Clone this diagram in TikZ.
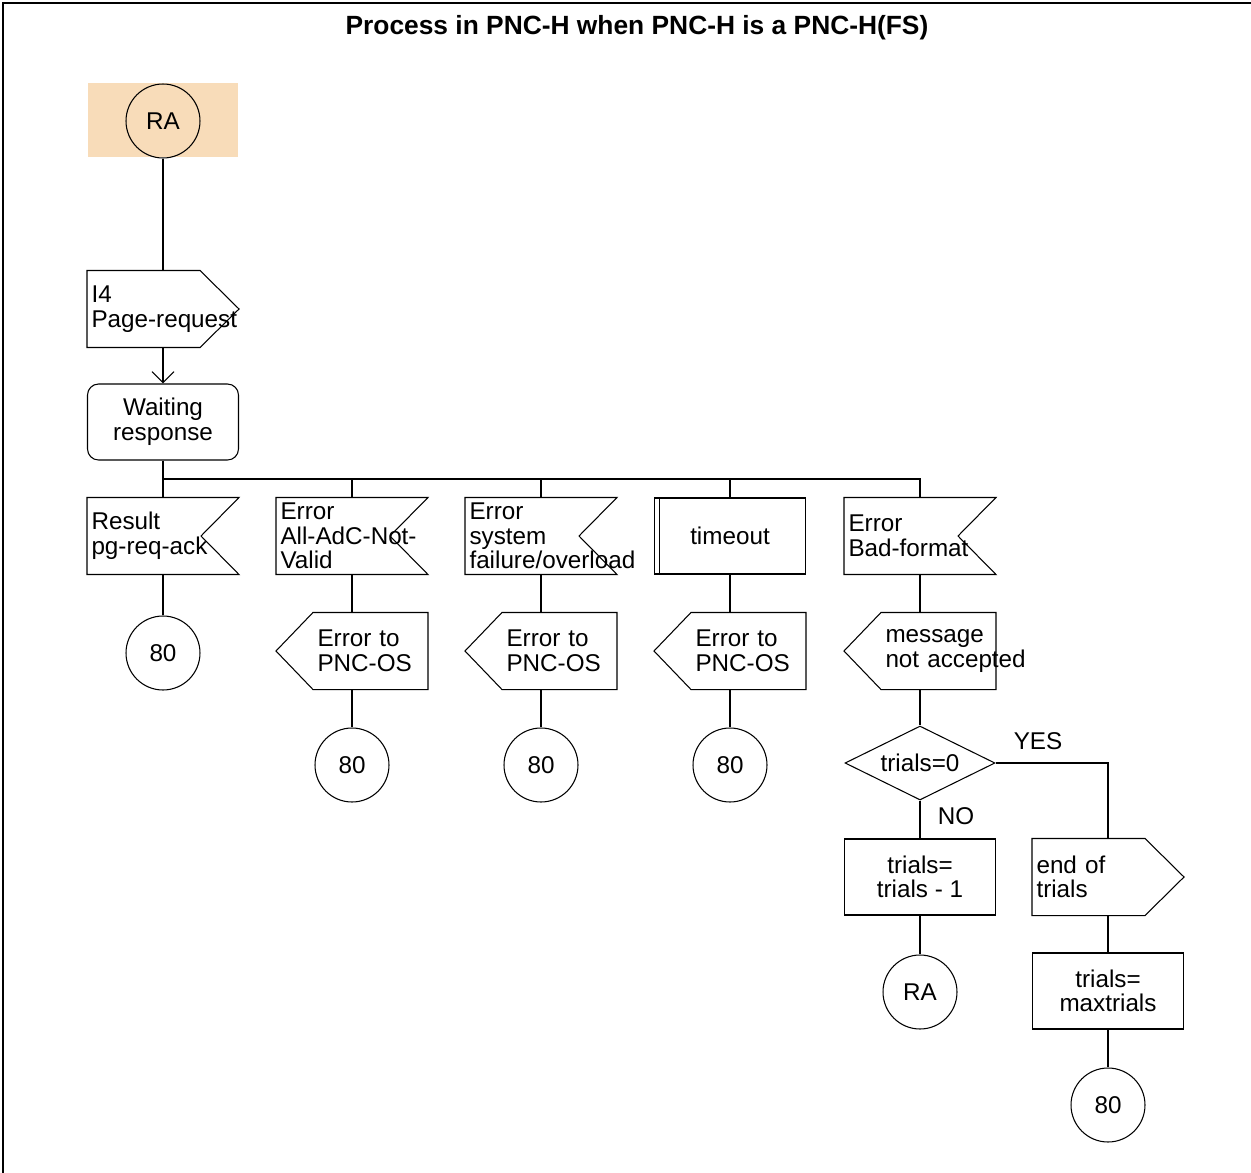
\documentclass[tikz,border=0pt]{standalone}
\usepackage{fontspec}
\setmainfont{Liberation Sans}
\usetikzlibrary{arrows.meta, positioning, shapes.geometric}
\definecolor{cstart}{HTML}{F8DCB9}
\exhyphenpenalty=10000
\hyphenpenalty=10000
\tikzset{
  every picture/.style={line width=0.6pt},
  every node/.style={font=\fontsize{13.8}{14}\selectfont},
  conn/.style={draw, circle, minimum size=1.48cm, inner sep=0pt},
  sdlbox/.style={rectangle, minimum width=3.02cm, minimum height=1.52cm, inner sep=0.08cm},
  task/.style={sdlbox, draw, align=center},
  statebox/.style={sdlbox, draw, rounded corners=0.22cm, align=center},
  sigtext/.style={sdlbox, text width=2.86cm, align=left},
  outtext/.style={sigtext, execute at begin node={\leftskip=0.74cm}},
  decision/.style={draw, diamond, aspect=2, minimum width=3cm, minimum height=1.48cm, inner sep=1pt},
  arrow/.style={-{Straight Barb[length=0.22cm, width=0.44cm]}},
  frame/.style={line width=1.2pt},
  title/.style={font=\fontsize{15}{17}\selectfont\bfseries},
}
% signal outlines drawn round the text nodes
\newcommand{\inshape}[1]{%
  \draw (#1.north west) -- (#1.north east) -- ([shift={(-38,0)}]#1.east)
    -- (#1.south east) -- (#1.south west) -- cycle;}
\newcommand{\sendright}[1]{%
  \draw (#1.north west) -- ([shift={(-39,0)}]#1.north east) -- (#1.east)
    -- ([shift={(-39,0)}]#1.south east) -- (#1.south west) -- cycle;}
\newcommand{\sendleft}[1]{%
  \draw (#1.west) -- ([shift={(37,0)}]#1.north west) -- (#1.north east)
    -- (#1.south east) -- ([shift={(37,0)}]#1.south west) -- cycle;}

\begin{document}
\begin{tikzpicture}[x=0.02cm, y=-0.02cm]
  \useasboundingbox (0,0) rectangle (1251,1173);
  \draw[frame] (3,1173) -- (3,3) -- (1251,3);
  \node[title] (head) at (637,28) {Process in PNC-H when PNC-H is a PNC-H(FS)};
  % start
  \node[fill=cstart, minimum width=3.02cm, minimum height=1.48cm] (rabg) at (163,120) {};
  \node[conn] (ra0) at (163,121) {RA};
  \node[sigtext] (pg) at (163,309) {I4\\Page-request};
  \sendright{pg}
  \node[statebox] (wait) at (163,422) {Waiting\\response};
  \draw (ra0) -- (pg);
  \draw[arrow] (pg) -- (wait);
  \coordinate (bus) at (163,479);
  % inputs
  \node[sigtext] (in1) at (163,536) {Result\\pg-req-ack};
  \node[sigtext] (in2) at (352,536) {Error\\All-AdC-Not-\\Valid};
  \node[sigtext] (in3) at (541,536) {Error\\system\\failure/overload};
  \node[task, line width=1pt] (in4) at (730,536) {timeout};
  \node[sigtext] (in5) at (920,536) {Error\\Bad-format};
  \inshape{in1} \inshape{in2} \inshape{in3} \inshape{in5}
  \draw ([shift={(6,0)}]in4.north west) -- ([shift={(6,0)}]in4.south west);
  \draw (wait) -- (in1);
  \draw (bus) -| (in2); \draw (bus) -| (in3); \draw (bus) -| (in4); \draw (bus) -| (in5);
  % outputs
  \node[conn] (c1) at (163,653) {80};
  \node[outtext] (out2) at (352,651) {Error to\\PNC-OS};
  \node[outtext] (out3) at (541,651) {Error to\\PNC-OS};
  \node[outtext] (out4) at (730,651) {Error to\\PNC-OS};
  \node[outtext] (out5) at (920,651) {message\\not~accepted};
  \sendleft{out2} \sendleft{out3} \sendleft{out4} \sendleft{out5}
  \node[conn] (c2) at (352,765) {80};
  \node[conn] (c3) at (541,765) {80};
  \node[conn] (c4) at (730,765) {80};
  \draw (in1) -- (c1);
  \draw (in2) -- (out2); \draw (out2) -- (c2);
  \draw (in3) -- (out3); \draw (out3) -- (c3);
  \draw (in4) -- (out4); \draw (out4) -- (c4);
  % trials
  \node[decision] (dia) at (920,763) {trials=0};
  \node (yes) at (1038,741) {YES};
  \node (no) at (956,816) {NO};
  \node[task] (dec) at (920,877) {trials=\\trials - 1};
  \node[conn] (ra1) at (920,992) {RA};
  \node[sigtext] (eot) at (1108,877) {end of\\trials};
  \sendright{eot}
  \node[task] (max) at (1108,991) {trials=\\maxtrials};
  \node[conn] (c5) at (1108,1105) {80};
  \draw (in5) -- (out5); \draw (out5) -- (dia);
  \draw (dia) -- (dec); \draw (dec) -- (ra1);
  \draw (dia.east) -| (eot); \draw (eot) -- (max); \draw (max) -- (c5);
\end{tikzpicture}
\end{document}
